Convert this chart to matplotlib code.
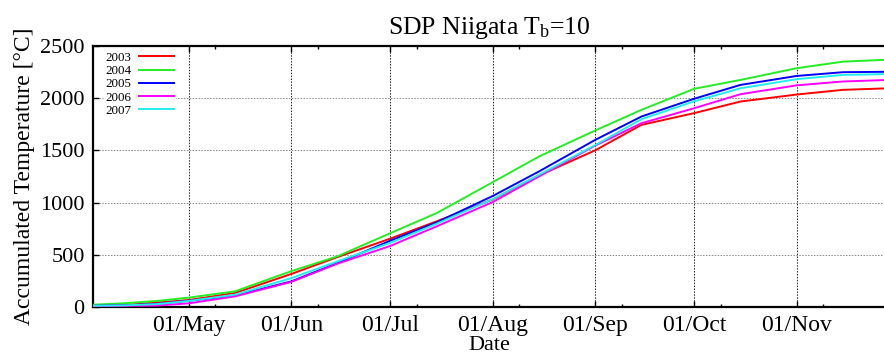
import matplotlib
matplotlib.use("Agg")
import matplotlib.pyplot as plt
import matplotlib.dates as mdates
from datetime import datetime

plt.rcParams['font.family'] = ['Liberation Serif', 'DejaVu Serif']
plt.rcParams['mathtext.fontset'] = 'custom'
plt.rcParams['mathtext.rm'] = 'Liberation Serif'
plt.rcParams['mathtext.it'] = 'Liberation Serif'

# sample dates (month-day)
dates = ["04-02", "04-11", "04-21", "05-01", "05-15", "06-01", "06-15", "07-01",
         "07-15", "08-01", "08-15", "09-01", "09-15", "10-01", "10-15", "11-01",
         "11-15", "11-28"]

y2003 = [15, 17, 41, 67, 134, 316, 478, 655, 820, 1030, 1260, 1500, 1744, 1857,
         1968, 2035, 2080, 2094]
y2004 = [22, 35, 57, 90, 150, 343, 485, 707, 899, 1195, 1441, 1690, 1888, 2090,
         2175, 2287, 2350, 2368]
y2005 = [12, 15, 29, 60, 108, 245, 421, 635, 810, 1063, 1298, 1600, 1824, 1995,
         2127, 2213, 2249, 2253]
y2006 = [10, 12, 13, 35, 102, 240, 415, 585, 772, 1005, 1250, 1545, 1760, 1904,
         2038, 2123, 2160, 2174]
y2007 = [12, 15, 27, 58, 118, 276, 437, 615, 797, 1033, 1266, 1550, 1798, 1970,
         2095, 2182, 2223, 2231]

series = [("2003", y2003, "#ff0000"),
          ("2004", y2004, "#22ee22"),
          ("2005", y2005, "#0000ff"),
          ("2006", y2006, "#ff00ff"),
          ("2007", y2007, "#22eeee")]

xd = [datetime.strptime("2003-" + d, "%Y-%m-%d") for d in dates]

fig = plt.figure(figsize=(8.84, 3.56), dpi=100)
ax = fig.add_axes([93/884, 1 - 307/356, 1.002 - 93/884, (307 - 46)/356])

for lab, ys, col in series:
    ax.plot(xd, ys, color=col, lw=1.4, label=lab, zorder=3)

ax.set_xlim(datetime(2003, 4, 2), datetime(2003, 11, 28))
ax.set_ylim(0, 2500)
ax.set_yticks([0, 500, 1000, 1500, 2000, 2500])
ax.xaxis.set_major_locator(mdates.MonthLocator(bymonth=range(5, 12)))
ax.xaxis.set_major_formatter(mdates.DateFormatter("%d/%b"))
ax.xaxis.set_minor_locator(mdates.MonthLocator(bymonth=range(5, 12), bymonthday=9))

ax.grid(True, axis='x', color='#222222', linestyle=(0, (1.5, 1.5)), lw=0.7)
ax.grid(True, axis='y', color='#888888', linestyle=(0, (1.5, 1.5)), lw=0.7)
ax.set_axisbelow(True)

for s in ax.spines.values():
    s.set_linewidth(1.6)
    s.set_color('black')

ax.tick_params(axis='both', which='both', direction='in', top=True, right=False)
ax.tick_params(axis='y', labelsize=16, pad=6)
ax.tick_params(axis='x', labelsize=17, pad=6)
ax.tick_params(which='major', length=4, width=1)
ax.tick_params(which='minor', length=2, width=1)

ax.set_xlabel("Date", fontsize=16, labelpad=0)
ax.set_ylabel("Accumulated Temperature [°C]", fontsize=17, labelpad=4)
ax.set_title(r"SDP Niigata T$_\mathrm{b}$=10", fontsize=18.5, pad=9)

leg = ax.legend(loc='upper left', fontsize=9.4, frameon=True, markerfirst=False,
                handlelength=2.7, labelspacing=0.08, borderpad=0.1,
                borderaxespad=0.85, handletextpad=0.55,
                bbox_to_anchor=(0.0, 1.025))
leg.get_frame().set_facecolor('white')
leg.get_frame().set_edgecolor('white')
leg.get_frame().set_alpha(1)
leg.get_frame().set_boxstyle('square', pad=0)

fig.savefig("out.png", dpi=100)
